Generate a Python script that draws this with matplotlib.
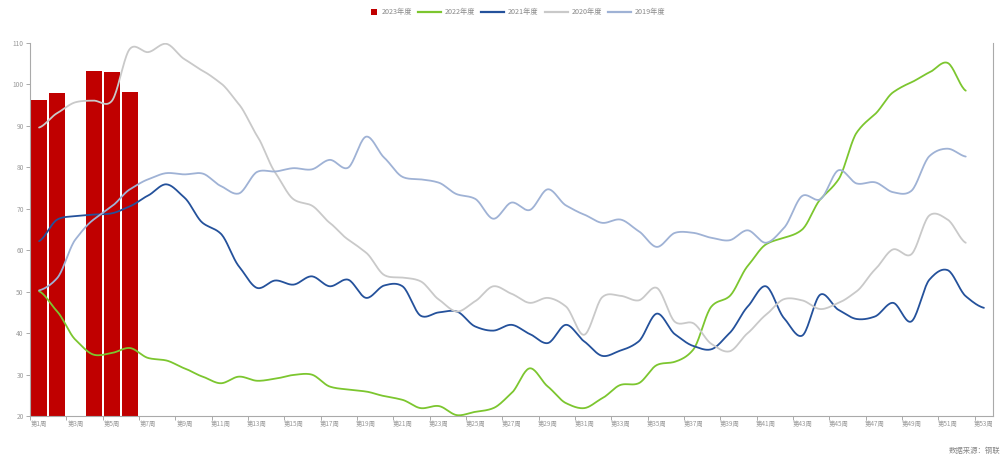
import numpy as np
import matplotlib
matplotlib.use("Agg")
import matplotlib.pyplot as plt
from matplotlib.lines import Line2D
from matplotlib.patches import Patch, Rectangle
from matplotlib.legend_handler import HandlerBase

plt.rcParams['font.family'] = ['Noto Sans CJK SC', 'DejaVu Sans']

weeks = list(range(1, 54))
week_labels = [f"第{w}周" for w in weeks]

# 2023: weeks 1-6 (week 3 missing)
bar_weeks = [1, 2, 4, 5, 6]
bar_2023 = [96.2, 98.0, 103.3, 103.0, 98.1]

s2022 = [50.1, 45.2, 38.4, 34.8, 35.2, 36.4, 34.0, 33.4, 31.5, 29.5,
         27.9, 29.5, 28.5, 29.0, 29.9, 30.0, 27.1, 26.4, 25.9, 24.8,
         23.9, 21.9, 22.4, 20.2, 21.0, 21.9, 25.5, 31.5, 27.1, 23.1,
         21.9, 24.3, 27.5, 27.9, 32.3, 33.1, 36.0, 46.4, 48.9, 56.2,
         61.4, 63.0, 65.0, 72.3, 77.1, 88.4, 92.8, 98.1, 100.5, 102.9,
         105.2, 98.5]

s2021 = [62.2, 67.4, 68.2, 68.6, 68.9, 70.6, 73.2, 75.9, 72.7, 66.6,
         64.0, 56.1, 50.9, 52.7, 51.7, 53.7, 51.3, 52.9, 48.5, 51.5,
         51.3, 44.2, 45.0, 45.2, 41.6, 40.6, 42.0, 39.8, 37.6, 42.0,
         38.0, 34.5, 35.8, 38.0, 44.7, 39.7, 36.9, 36.1, 40.0, 46.4,
         51.3, 43.6, 39.4, 49.3, 45.6, 43.4, 44.0, 47.3, 42.8, 52.9,
         55.2, 48.9, 46.1]

s2020 = [89.6, 93.1, 95.7, 96.1, 96.0, 108.6, 107.8, 109.8, 106.1, 103.3,
         100.3, 95.2, 87.6, 78.7, 72.3, 70.8, 66.6, 62.6, 59.4, 54.0,
         53.4, 52.5, 48.1, 45.2, 47.7, 51.3, 49.5, 47.3, 48.5, 46.4,
         39.6, 48.7, 49.0, 47.9, 50.9, 42.7, 42.4, 37.4, 35.6, 40.0,
         44.4, 48.2, 47.9, 45.8, 47.3, 50.1, 55.3, 60.2, 59.0, 68.4,
         67.4, 61.8]

s2019 = [50.3, 53.3, 62.6, 67.4, 70.6, 74.7, 77.1, 78.6, 78.3, 78.5,
         75.5, 73.7, 78.9, 79.0, 79.8, 79.5, 81.8, 79.9, 87.4, 82.3,
         77.7, 77.1, 76.3, 73.5, 72.4, 67.6, 71.5, 69.7, 74.7, 70.8,
         68.6, 66.6, 67.4, 64.6, 60.8, 64.2, 64.2, 63.0, 62.4, 64.8,
         61.8, 65.4, 73.1, 72.3, 79.3, 76.1, 76.4, 74.0, 74.3, 82.7,
         84.5, 82.6]

series_names = ["2023年度", "2022年度", "2021年度", "2020年度", "2019年度"]
colors = ["#c00000", "#7cc62f", "#24519b", "#c9c9c9", "#9fb2d5"]


def smooth(xs, ys, n=20):
    """Catmull-Rom spline through the weekly points."""
    xs = np.asarray(xs, float)
    ys = np.asarray(ys, float)
    px = np.concatenate([[2 * xs[0] - xs[1]], xs, [2 * xs[-1] - xs[-2]]])
    py = np.concatenate([[ys[0]], ys, [ys[-1]]])
    out_x, out_y = [], []
    t = np.linspace(0, 1, n, endpoint=False)
    for i in range(1, len(px) - 2):
        p0, p1, p2, p3 = py[i - 1], py[i], py[i + 1], py[i + 2]
        m1 = (p2 - p0) / 2 * 0.8
        m2 = (p3 - p1) / 2 * 0.8
        h00 = 2 * t**3 - 3 * t**2 + 1
        h10 = t**3 - 2 * t**2 + t
        h01 = -2 * t**3 + 3 * t**2
        h11 = t**3 - t**2
        out_y.append(h00 * p1 + h10 * m1 + h01 * p2 + h11 * m2)
        out_x.append(px[i] + t * (px[i + 1] - px[i]))
    out_x.append([xs[-1]])
    out_y.append([ys[-1]])
    return np.concatenate(out_x), np.concatenate(out_y)


class SquareHandler(HandlerBase):
    """Small square legend key sitting at the right end of the handle box."""
    def create_artists(self, legend, orig_handle, xdescent, ydescent,
                       width, height, fontsize, trans):
        s = fontsize * 0.95
        rect = Rectangle((-xdescent + width - s, -ydescent + (height - s) / 2),
                         s, s, facecolor=orig_handle.get_facecolor(),
                         edgecolor='none', transform=trans)
        return [rect]


fig = plt.figure(figsize=(10.02, 4.62), dpi=100)
ax = fig.add_axes([30 / 1002, 46 / 462, 963 / 1002, 373 / 462])

ax.bar(bar_weeks, bar_2023, width=0.88, color=colors[0], zorder=2)

for vals, c in zip([s2022, s2021, s2020, s2019], colors[1:]):
    xs = weeks[:len(vals)]
    sx, sy = smooth(xs, vals)
    ax.plot(sx, sy, color=c, lw=1.3, zorder=3, solid_capstyle='round')

ax.set_xlim(0.5, 53.5)
ax.set_ylim(20, 110)

axis_color = "#aaaaaa"
text_color = "#9a9a9a"
for side in ["left", "bottom", "right"]:
    ax.spines[side].set_color(axis_color)
    ax.spines[side].set_linewidth(0.8)
ax.spines["top"].set_visible(False)

ax.set_yticks(range(20, 111, 10))
ax.tick_params(axis='y', length=3, width=0.7, color=axis_color,
               labelsize=4.8, labelcolor=text_color, pad=1.5)

ax.set_xticks([k + 0.5 for k in range(0, 54, 2)])
ax.set_xticklabels([])
ax.tick_params(axis='x', which='major', length=3, width=0.7, color=axis_color)
ax.set_xticks(weeks[::2], minor=True)
ax.set_xticklabels(week_labels[::2], minor=True)
ax.tick_params(axis='x', which='minor', length=0, labelsize=4.6,
               labelcolor=text_color, pad=3)

handles = [Patch(facecolor=colors[0], edgecolor='none')]
handles += [Line2D([0], [0], color=c, lw=1.6) for c in colors[1:]]
fig.legend(handles, series_names, loc='center', bbox_to_anchor=(0.509, 0.973),
           ncol=5, frameon=False, fontsize=5.2, labelcolor="#8a8a8a",
           handlelength=3.2, handleheight=0.7, handletextpad=0.55,
           columnspacing=0.8, handler_map={Patch: SquareHandler()})

fig.text(0.998, 0.015, "数据来源：钢联", ha='right', va='bottom',
         fontsize=5.3, color="#888888")

fig.savefig("out.png", dpi=100, facecolor="white")
